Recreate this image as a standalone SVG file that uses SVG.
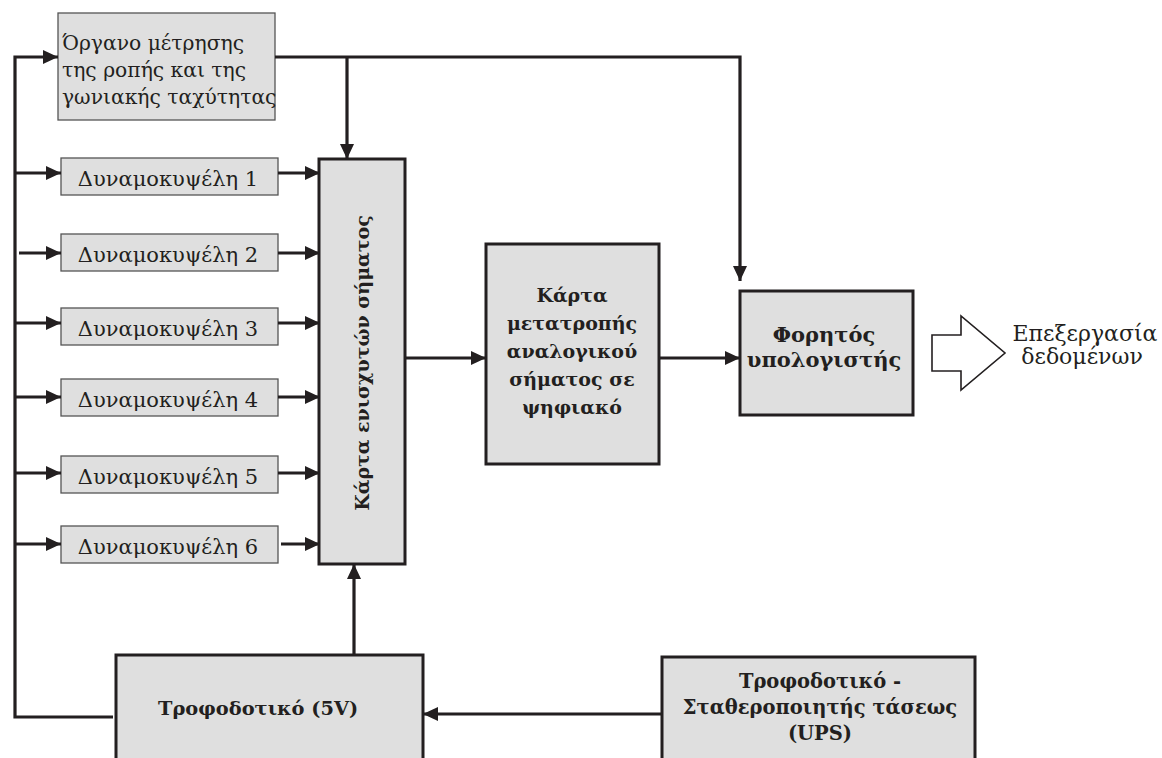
<svg xmlns="http://www.w3.org/2000/svg" width="1162" height="758" viewBox="0 0 1162 758">
<style>
.thin{fill:#dfdfdf;stroke:#555;stroke-width:1.3}
.thick{fill:#dfdfdf;stroke:#231f20;stroke-width:3}
.reg{font-family:"DejaVu Serif","Liberation Serif",serif;fill:#231f20}
.bold{font-family:"DejaVu Serif","Liberation Serif",serif;font-weight:bold;fill:#231f20}
.c{stroke:#231f20;stroke-width:3.2;fill:none}
</style>
<defs>
<marker id="ah" markerUnits="userSpaceOnUse" markerWidth="15" markerHeight="14" refX="15" refY="7" orient="auto">
<path d="M0,0 L15,7 L0,14 z" fill="#231f20"/>
</marker>
</defs>
<rect width="1162" height="758" fill="#fff"/>
<g id="instrument">
<rect class="thin" x="58" y="13" width="217" height="107"/>
<text class="reg" font-size="20.3" x="62" y="50">Όργανο μέτρησης</text>
<text class="reg" font-size="20.3" x="62" y="77">της ροπής και της</text>
<text class="reg" font-size="20.3" x="62" y="104">γωνιακής ταχύτητας</text>
</g>
<g id="cell1"><rect class="thin" x="61" y="158" width="217" height="37"/><text class="reg" font-size="21" x="168" y="186" text-anchor="middle">Δυναμοκυψέλη 1</text></g>
<g id="cell2"><rect class="thin" x="61" y="234" width="217" height="37"/><text class="reg" font-size="21" x="168" y="262" text-anchor="middle">Δυναμοκυψέλη 2</text></g>
<g id="cell3"><rect class="thin" x="61" y="308" width="217" height="37"/><text class="reg" font-size="21" x="168" y="336" text-anchor="middle">Δυναμοκυψέλη 3</text></g>
<g id="cell4"><rect class="thin" x="61" y="379" width="217" height="37"/><text class="reg" font-size="21" x="168" y="407" text-anchor="middle">Δυναμοκυψέλη 4</text></g>
<g id="cell5"><rect class="thin" x="61" y="456" width="217" height="37"/><text class="reg" font-size="21" x="168" y="484" text-anchor="middle">Δυναμοκυψέλη 5</text></g>
<g id="cell6"><rect class="thin" x="61" y="526" width="217" height="37"/><text class="reg" font-size="21" x="168" y="554" text-anchor="middle">Δυναμοκυψέλη 6</text></g>
<g id="amplifier">
<rect class="thick" x="319" y="159" width="86" height="405"/>
<text class="bold" font-size="19" text-anchor="middle" transform="translate(369,363) rotate(-90)">Κάρτα ενισχυτών σήματος</text>
</g>
<g id="adc">
<rect class="thick" x="486" y="244" width="173" height="220"/>
<text class="bold" font-size="19" x="572" y="302" text-anchor="middle">Κάρτα</text>
<text class="bold" font-size="19" x="572" y="330" text-anchor="middle">μετατροπής</text>
<text class="bold" font-size="19" x="572" y="358" text-anchor="middle">αναλογικού</text>
<text class="bold" font-size="19" x="572" y="386" text-anchor="middle">σήματος σε</text>
<text class="bold" font-size="19" x="572" y="414" text-anchor="middle">ψηφιακό</text>
</g>
<g id="laptop">
<rect class="thick" x="740" y="291" width="173" height="124"/>
<text class="bold" font-size="21" x="824" y="342" text-anchor="middle">Φορητός</text>
<text class="bold" font-size="21" x="824" y="367" text-anchor="middle">υπολογιστής</text>
</g>
<g id="processing">
<polygon points="932,335 961,335 961,316 1005,353 961,390 961,371 932,371" fill="#fff" stroke="#231f20" stroke-width="1.6"/>
<text class="reg" font-size="22" x="1085" y="341" text-anchor="middle">Επεξεργασία</text>
<text class="reg" font-size="22" x="1082" y="364" text-anchor="middle">δεδομένων</text>
</g>
<g id="psu5v">
<rect class="thick" x="116" y="655" width="307" height="120"/>
<text class="bold" font-size="19.4" x="158" y="715">Τροφοδοτικό (5V)</text>
</g>
<g id="ups">
<rect class="thick" x="662" y="657" width="313" height="120"/>
<text class="bold" font-size="19.5" x="820" y="688" text-anchor="middle">Τροφοδοτικό -</text>
<text class="bold" font-size="19.5" x="820" y="714" text-anchor="middle">Σταθεροποιητής τάσεως</text>
<text class="bold" font-size="19.5" x="820" y="740" text-anchor="middle">(UPS)</text>
</g>
<g id="connectors">
<path class="c" d="M113,717 H15 V57 H58" marker-end="url(#ah)"/>
<path class="c" d="M15,173 H61" marker-end="url(#ah)"/>
<path class="c" d="M19,253 H61" marker-end="url(#ah)"/>
<path class="c" d="M15,323 H61" marker-end="url(#ah)"/>
<path class="c" d="M15,397 H61" marker-end="url(#ah)"/>
<path class="c" d="M15,473 H61" marker-end="url(#ah)"/>
<path class="c" d="M15,544 H61" marker-end="url(#ah)"/>
<path class="c" d="M278,173 H320" marker-end="url(#ah)"/>
<path class="c" d="M278,253 H320" marker-end="url(#ah)"/>
<path class="c" d="M278,323 H320" marker-end="url(#ah)"/>
<path class="c" d="M278,397 H320" marker-end="url(#ah)"/>
<path class="c" d="M278,473 H320" marker-end="url(#ah)"/>
<path class="c" d="M281,544 H320" marker-end="url(#ah)"/>
<path class="c" d="M275,57 H740 V281" marker-end="url(#ah)"/>
<path class="c" d="M347,57 V159" marker-end="url(#ah)"/>
<path class="c" d="M405,358 H486" marker-end="url(#ah)"/>
<path class="c" d="M659,358 H740" marker-end="url(#ah)"/>
<path class="c" d="M354,655 V564" marker-end="url(#ah)"/>
<path class="c" d="M662,714 H423" marker-end="url(#ah)"/>
</g>
</svg>
